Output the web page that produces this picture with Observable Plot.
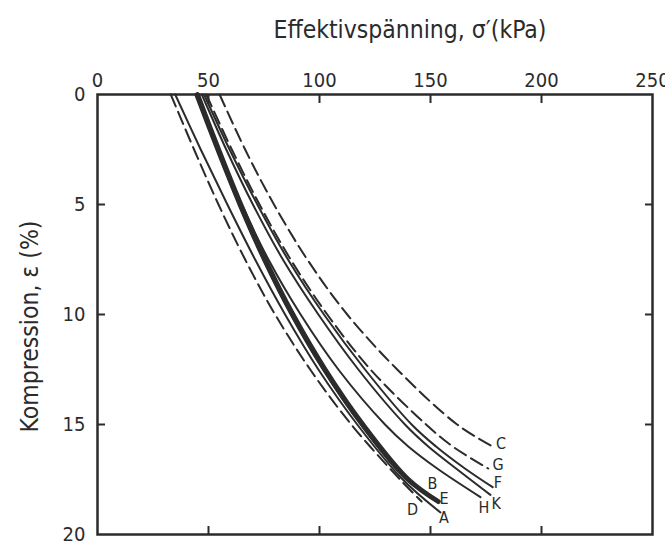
<!DOCTYPE html>
<html>
<head>
<meta charset="utf-8">
<script src="https://cdn.jsdelivr.net/npm/d3@7"></script>
<script src="https://cdn.jsdelivr.net/npm/@observablehq/plot@0.6"></script>
<style>
  html, body { margin: 0; padding: 0; background: #fff; }
  #chart svg { display: block; font-family: "DejaVu Sans Condensed", "Liberation Sans Narrow", "DejaVu Sans", sans-serif; }
</style>
</head>
<body>
<div id="chart"></div>
<script>
// ---- data ----
const xTicks = [0, 50, 100, 150, 200, 250];
const xInnerTicks = [50, 100, 150, 200];
const yTicks = [0, 5, 10, 15, 20];
const yInnerTicks = [5, 10, 15];

// strain (%) and effective stress (kPa) per curve
const strainC = [0, 2.5, 5, 7.5, 10, 12.5, 15, 16];
const stressC = [55, 66.5, 79.5, 94.5, 112.5, 135, 162, 178];
const strainG = [0, 2.5, 5, 7.5, 10, 12.5, 15, 16, 17];
const stressG = [49, 60.5, 73, 87, 103.5, 123, 148, 160, 176];
const strainF = [0, 2.5, 5, 7.5, 10, 12.5, 15, 16, 17, 17.85];
const stressF = [48, 59.5, 72, 85.8, 102, 120.5, 141.5, 152.5, 165.5, 178];
const strainK = [0, 2.5, 5, 7.5, 10, 12.5, 15, 16, 17, 18.2];
const stressK = [47, 58, 70, 83.5, 99.5, 117.5, 138.5, 149, 161.5, 177];
const strainH = [0, 2.5, 5, 7.5, 10, 12.5, 15, 16, 17, 18.3];
const stressH = [45, 54.5, 65, 77, 91.5, 108.5, 129.5, 140, 153, 172.5];
const strainB = [0, 2.5, 5, 7.5, 10, 12.5, 15, 17.5, 18.3];
const stressB = [44, 53.5, 63.5, 74.5, 87, 101.5, 118.5, 139, 151];
const strainE = [0, 2.5, 5, 7.5, 10, 12.5, 15, 17.5, 18.5];
const stressE = [45, 54.5, 64.5, 75.5, 88, 102.5, 119.5, 140, 153.5];
const strainA = [0, 2.5, 5, 7.5, 10, 12.5, 15, 17.5, 19];
const stressA = [35, 46.5, 58.5, 71, 84.5, 99.5, 117, 137.5, 154.5];
const strainD = [0, 2.5, 5, 7.5, 10, 12.5, 15, 17.5, 18.5];
const stressD = [33, 43.5, 54.5, 66.5, 80, 95.8, 114.3, 136.3, 146];

const curveNames = ["C", "G", "F", "K", "H", "B", "E", "A", "D"];
const curveStyles = ["dashed", "dashed", "solid", "solid", "solid", "solid", "thick", "solid", "dashed"];
const curveStrains = [strainC, strainG, strainF, strainK, strainH, strainB, strainE, strainA, strainD];
const curveStresses = [stressC, stressG, stressF, stressK, stressH, stressB, stressE, stressA, stressD];

// curve letters and where they sit (kPa, %)
const labelNames = ["C", "G", "F", "K", "H", "B", "E", "D", "A"];
const labelStress = [181.8, 180.4, 180.4, 179.6, 174.1, 150.9, 156.1, 141.9, 156.1];
const labelStrain = [15.86, 16.85, 17.65, 18.6, 18.8, 17.7, 18.4, 18.9, 19.25];

const xTitle = "Effektivspänning, σ′(kPa)";
const yTitle = "Kompression, ε (%)";

// ---- build tables ----
const rows = [];
curveNames.forEach((name, i) => {
  curveStrains[i].forEach((e, j) => rows.push({curve: name, style: curveStyles[i], e, s: curveStresses[i][j]}));
});
const labels = labelNames.map((t, i) => ({t, s: labelStress[i], e: labelStrain[i]}));

const ink = "#2b2b2b";
const chart = Plot.plot({
  width: 665,
  height: 545,
  marginLeft: 97,
  marginRight: 13,
  marginTop: 94,
  marginBottom: 11,
  style: {background: "#fff", color: ink},
  x: {domain: [0, 250]},
  y: {domain: [0, 20], reverse: true},
  marks: [
    Plot.line(rows.filter(d => d.style === "solid"), {x: "s", y: "e", z: "curve", stroke: ink, strokeWidth: 2, curve: "catmull-rom"}),
    Plot.line(rows.filter(d => d.style === "thick"), {x: "s", y: "e", z: "curve", stroke: ink, strokeWidth: 5, curve: "catmull-rom"}),
    Plot.line(rows.filter(d => d.style === "dashed"), {x: "s", y: "e", z: "curve", stroke: ink, strokeWidth: 2, strokeDasharray: "13,6", curve: "catmull-rom"}),
    Plot.text(labels, {x: "s", y: "e", text: "t", fill: ink, fontSize: 16}),
    // axes
    Plot.axisX(xTicks, {anchor: "top", tickSize: 0, tickPadding: 8, fontSize: 20, label: null}),
    Plot.axisX(xInnerTicks, {anchor: "top", tickSize: -8, tickFormat: () => "", label: null, strokeWidth: 2}),
    Plot.axisX(xInnerTicks, {anchor: "bottom", tickSize: -8, tickFormat: () => "", label: null, strokeWidth: 2}),
    Plot.axisY(yTicks, {anchor: "left", tickSize: 0, tickPadding: 12, fontSize: 20, label: null}),
    Plot.axisY(yInnerTicks, {anchor: "left", tickSize: -8, tickFormat: () => "", label: null, strokeWidth: 2}),
    Plot.axisY(yInnerTicks, {anchor: "right", tickSize: -8, tickFormat: () => "", label: null, strokeWidth: 2}),
    Plot.frame({stroke: ink, strokeWidth: 2.5}),
    Plot.text([xTitle], {frameAnchor: "top", textAnchor: "middle", lineAnchor: "middle", dx: 35, dy: -64, fontSize: 24.5, fill: ink}),
    Plot.text([yTitle], {frameAnchor: "left", textAnchor: "middle", lineAnchor: "middle", dx: -67, dy: 12, rotate: -90, fontSize: 24.5, fill: ink})
  ]
});
document.getElementById("chart").appendChild(chart);
</script>
</body>
</html>
